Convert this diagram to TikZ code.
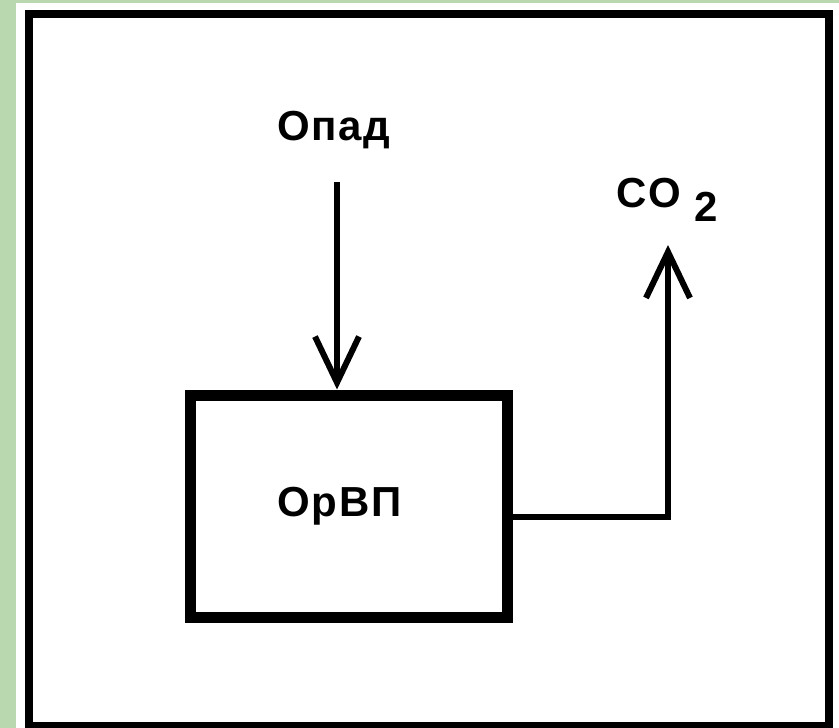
\documentclass[tikz,border=0pt]{standalone}
\usepackage{fontspec}
\setmainfont{Liberation Sans}
\usetikzlibrary{arrows.meta}
\definecolor{bggreen}{RGB}{186,216,176}

\begin{document}
\begin{tikzpicture}[x=1pt, y=-1pt,
        lbl/.style={font=\fontsize{42}{46}\selectfont\bfseries\addfontfeature{LetterSpace=4}, inner sep=0pt},
        block/.style={draw, line width=11pt, minimum width=317pt, minimum height=222pt, inner sep=0pt},
        flow/.style={line width=6pt, -{Straight Barb[length=46pt, width=44pt]}}]
        \useasboundingbox (0,0) rectangle (839,728);
        \fill[bggreen] (0,0) rectangle (839,728);
        \fill[white] (16,3) rectangle (839,728);
        \draw[line width=8pt] (29,14) rectangle (829,726);

        \node[block, lbl] (orvp) at (349,506) {ОрВП\hspace*{19pt}};
        \node[lbl, anchor=base] (opad) at (334,140) {Опад};
        \node[lbl, anchor=base west] (co2) at (616,207) {CO\hspace{14pt}\raisebox{-14pt}{2}};

        \coordinate (in)   at (337,182);
        \coordinate (bend) at (668,517);
        \coordinate (out)  at (668,245);

        \draw[flow] (in)--(in |- orvp.north);
        \draw[flow] (orvp.east |- bend)--(bend)--(out);
        \end{tikzpicture}
\end{document}
